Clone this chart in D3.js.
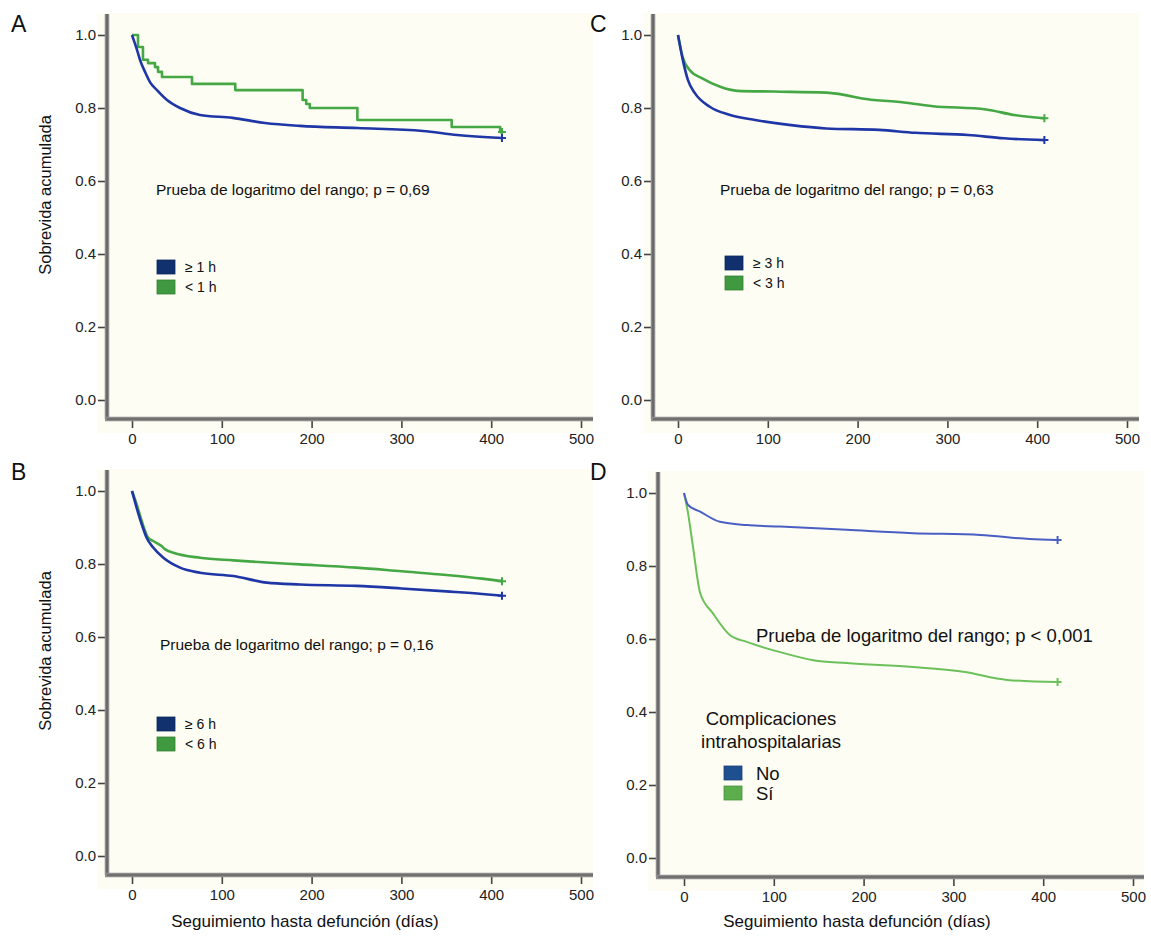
<!doctype html>
<html>
<head>
<meta charset="utf-8">
<style>
  body { margin: 0; background: #fff; }
  svg { display: block; font-family: "Liberation Sans", Arial, sans-serif; }
  .tick text { fill: #222; }
  .tick line { stroke: #444; stroke-width: 1.6; }
</style>
<script src="https://d3js.org/d3.v7.min.js"></script>
</head>
<body>
<svg width="1151" height="937"></svg>
<script>
// axis ticks
var xTicks = [0, 100, 200, 300, 400, 500];
var yTicks = [0, 0.2, 0.4, 0.6, 0.8, 1.0];

// A: tiempo >= 1 h / < 1 h
var aBlueT = [0, 5.6, 8.9, 14.5, 20, 27.8, 39, 53.5, 75.7, 112, 148, 187, 251, 324, 362, 412];
var aBlueS = [1, 0.959, 0.932, 0.899, 0.871, 0.849, 0.822, 0.800, 0.781, 0.773, 0.759, 0.751, 0.745, 0.737, 0.726, 0.718];
var aGreenT = [0, 6.7, 12.2, 17.8, 25.6, 29, 33.4, 66.8, 115, 190, 194, 198, 251, 356, 410, 412];
var aGreenS = [1, 0.967, 0.932, 0.923, 0.912, 0.899, 0.885, 0.866, 0.849, 0.822, 0.811, 0.800, 0.767, 0.748, 0.734, 0.734];

// B: >= 6 h / < 6 h
var bBlueT = [0, 5.2, 10.8, 16.3, 23.6, 34.9, 53.5, 75.7, 113, 150, 187, 250, 300, 350, 390, 412];
var bBlueS = [1, 0.954, 0.909, 0.872, 0.845, 0.817, 0.790, 0.776, 0.767, 0.749, 0.744, 0.740, 0.733, 0.725, 0.718, 0.713];
var bGreenT = [0, 5.2, 10.8, 18, 23.6, 33, 37, 46, 75.7, 113, 150, 187, 250, 300, 350, 390, 412];
var bGreenS = [1, 0.963, 0.918, 0.872, 0.863, 0.849, 0.840, 0.831, 0.817, 0.810, 0.804, 0.799, 0.790, 0.780, 0.770, 0.760, 0.753];

// C: >= 3 h / < 3 h
var cBlueT = [0, 5, 11, 19, 35, 58, 86, 126, 165, 224, 264, 323, 363, 408];
var cBlueS = [1, 0.936, 0.877, 0.840, 0.804, 0.781, 0.767, 0.753, 0.744, 0.740, 0.732, 0.726, 0.717, 0.712];
var cGreenT = [0, 5, 13, 27, 47, 66, 106, 165, 185, 205, 244, 284, 343, 374, 408];
var cGreenS = [1, 0.941, 0.904, 0.881, 0.858, 0.847, 0.845, 0.842, 0.836, 0.826, 0.817, 0.805, 0.796, 0.781, 0.772];

// D: complicaciones intrahospitalarias No / Sí
var dBlueT = [0, 4.5, 18, 40, 70, 107, 181, 255, 330, 385, 416];
var dBlueS = [1, 0.967, 0.949, 0.921, 0.912, 0.908, 0.899, 0.890, 0.885, 0.874, 0.871];
var dGreenT = [0, 4.5, 10, 18, 32, 51, 70, 107, 144, 181, 255, 311, 360, 416];
var dGreenS = [1, 0.945, 0.853, 0.726, 0.671, 0.611, 0.592, 0.564, 0.542, 0.534, 0.523, 0.510, 0.488, 0.482];

function pts(t, s) { return t.map(function(d, i) { return [d, s[i]]; }); }

var svg = d3.select("svg");

var panels = [
  { id: "A", lxL: 11, lyL: 32, x0: 132, axisX: 107, top: 35,
    blue: pts(aBlueT, aBlueS), green: pts(aGreenT, aGreenS), greenStep: true,
    test: "Prueba de logaritmo del rango; p = 0,69", tx: 156, ty: 195,
    leg: ["\u2265 1 h", "< 1 h"], lx: 157, ly: 260, yTitle: true, xTitle: false },
  { id: "C", lxL: 590, lyL: 32, x0: 678, axisX: 653, top: 35,
    blue: pts(cBlueT, cBlueS), green: pts(cGreenT, cGreenS),
    test: "Prueba de logaritmo del rango; p = 0,63", tx: 720, ty: 195,
    leg: ["\u2265 3 h", "< 3 h"], lx: 725, ly: 256, yTitle: false, xTitle: false },
  { id: "B", lxL: 11, lyL: 480, x0: 132, axisX: 107, top: 491,
    blue: pts(bBlueT, bBlueS), green: pts(bGreenT, bGreenS),
    test: "Prueba de logaritmo del rango; p = 0,16", tx: 160, ty: 650,
    leg: ["\u2265 6 h", "< 6 h"], lx: 157, ly: 717, yTitle: true, xTitle: true },
  { id: "D", lxL: 590, lyL: 480, x0: 684, axisX: 658, top: 493,
    blue: pts(dBlueT, dBlueS), green: pts(dGreenT, dGreenS), light: true,
    test: "Prueba de logaritmo del rango; p < 0,001", tx: 756, ty: 642,
    leg: ["No", "S\u00ed"], lx: 724, ly: 766, big: true, yTitle: false, xTitle: true }
];

panels.forEach(function(p) {
  var x = d3.scaleLinear().domain([0, 500]).range([p.x0, p.x0 + 449]);
  var y = d3.scaleLinear().domain([0, 1]).range([p.top + 365, p.top]);
  var bottom = p.top + 384;
  var g = svg.append("g");

  // cream plot background
  g.append("rect")
    .attr("x", p.axisX - 10).attr("y", p.top - 22)
    .attr("width", 496).attr("height", 420)
    .attr("fill", "#fdfdf3");

  // panel letter
  g.append("text").attr("x", p.lxL).attr("y", p.lyL)
    .attr("font-size", 23).attr("fill", "#111").text(p.id);

  // y axis
  var ya = g.append("g").attr("transform", "translate(" + (p.axisX - 2) + ",0)")
    .call(d3.axisLeft(y).tickValues(yTicks).tickFormat(d3.format(".1f")).tickSize(7).tickPadding(2));
  ya.select(".domain").remove();
  // x axis
  var xa = g.append("g").attr("transform", "translate(0," + (bottom + 2) + ")")
    .call(d3.axisBottom(x).tickValues(xTicks).tickSize(7).tickPadding(5));
  xa.select(".domain").remove();
  [ya, xa].forEach(function(a) {
    a.attr("font-size", 15).attr("font-family", "'Liberation Sans', Arial, sans-serif");
  });

  // thick grey axis bars
  g.append("line").attr("x1", p.axisX).attr("x2", p.axisX)
    .attr("y1", p.top - 21).attr("y2", bottom)
    .attr("stroke", "#8c8c8c").attr("stroke-width", 4.5);
  g.append("line").attr("x1", p.axisX).attr("x2", p.axisX)
    .attr("y1", p.top - 21).attr("y2", bottom)
    .attr("stroke", "#555").attr("stroke-width", 1.2);
  g.append("line").attr("x1", p.axisX - 2).attr("x2", p.axisX + 486)
    .attr("y1", bottom).attr("y2", bottom)
    .attr("stroke", "#8c8c8c").attr("stroke-width", 4.5);
  g.append("line").attr("x1", p.axisX).attr("x2", p.axisX + 486)
    .attr("y1", bottom).attr("y2", bottom)
    .attr("stroke", "#555").attr("stroke-width", 1.2);

  var blueC = p.light ? "#4a5fc4" : "#1f36a6";
  var greenC = p.light ? "#6cc05a" : "#45a845";
  var sw = p.light ? 2 : 2.6;

  var lineB = d3.line().x(function(d) { return x(d[0]); }).y(function(d) { return y(d[1]); })
    .curve(d3.curveMonotoneX);
  var lineG = d3.line().x(function(d) { return x(d[0]); }).y(function(d) { return y(d[1]); })
    .curve(p.greenStep ? d3.curveStepAfter : d3.curveMonotoneX);

  g.append("path").datum(p.green).attr("d", lineG)
    .attr("fill", "none").attr("stroke", greenC).attr("stroke-width", sw).attr("stroke-linejoin", "round");
  g.append("path").datum(p.blue).attr("d", lineB)
    .attr("fill", "none").attr("stroke", blueC).attr("stroke-width", sw).attr("stroke-linejoin", "round");

  // censor crosses at curve ends
  [[p.green, greenC], [p.blue, blueC]].forEach(function(s) {
    var e = s[0][s[0].length - 1];
    var cx = x(e[0]), cy = y(e[1]);
    g.append("path").attr("d", "M" + (cx - 4) + "," + cy + "H" + (cx + 4) + "M" + cx + "," + (cy - 4) + "V" + (cy + 4))
      .attr("stroke", s[1]).attr("stroke-width", 2);
  });

  // log-rank text
  g.append("text").attr("x", p.tx).attr("y", p.ty)
    .attr("font-size", p.big ? 18.5 : 15.5).attr("fill", "#111").text(p.test);

  // legend
  if (p.big) {
    g.append("text").attr("x", 771).attr("y", 725).attr("text-anchor", "middle")
      .attr("font-size", 18.5).attr("fill", "#111").text("Complicaciones");
    g.append("text").attr("x", 771).attr("y", 748).attr("text-anchor", "middle")
      .attr("font-size", 18.5).attr("fill", "#111").text("intrahospitalarias");
  }
  var swC = p.light ? ["#1e4f8f", "#5cae4c"] : ["#10306e", "#3f9a3f"];
  p.leg.forEach(function(lab, i) {
    var yy = p.ly + i * 20;
    g.append("rect").attr("x", p.lx).attr("y", yy).attr("width", 18).attr("height", 14)
      .attr("fill", swC[i]).attr("stroke", d3.color(swC[i]).darker(0.5)).attr("stroke-width", 0.8);
    g.append("text").attr("x", p.lx + (p.big ? 32 : 28)).attr("y", yy + (p.big ? 14 : 12))
      .attr("font-size", p.big ? 18.5 : 14).attr("fill", "#111").text(lab);
  });

  if (p.yTitle) {
    g.append("text").attr("transform", "translate(51," + (p.top + 160) + ") rotate(-90)")
      .attr("text-anchor", "middle").attr("font-size", 16.5).attr("fill", "#111")
      .text("Sobrevida acumulada");
  }
  if (p.xTitle) {
    g.append("text").attr("x", p.x0 + 173).attr("y", 927)
      .attr("text-anchor", "middle").attr("font-size", 17).attr("fill", "#111")
      .text("Seguimiento hasta defunción (días)");
  }
});
</script>
</body>
</html>
